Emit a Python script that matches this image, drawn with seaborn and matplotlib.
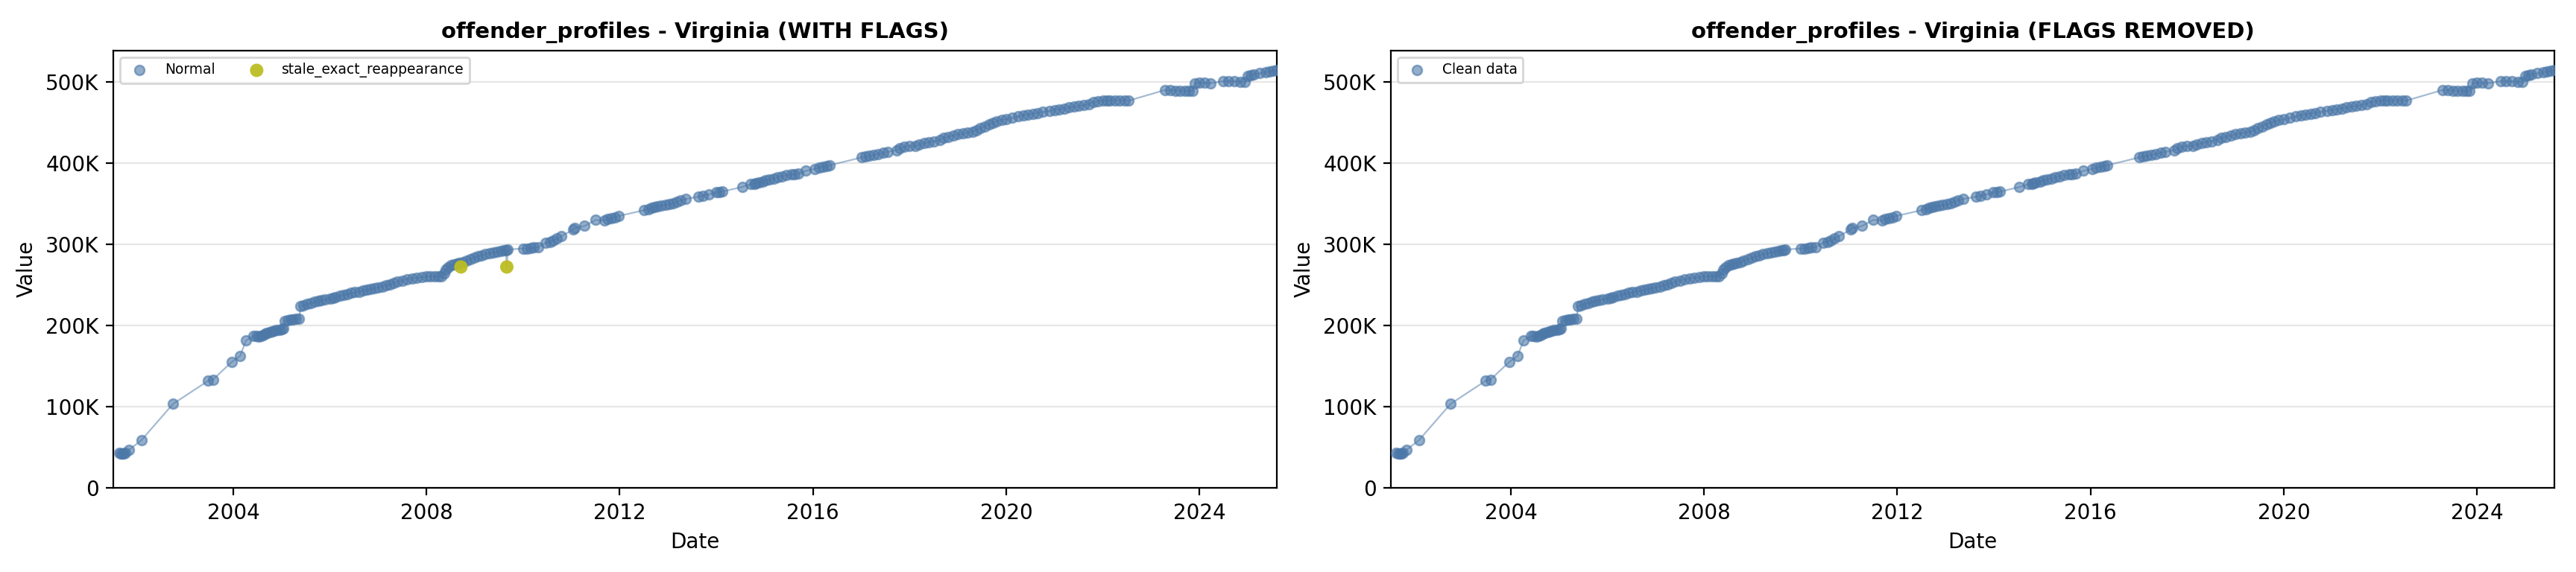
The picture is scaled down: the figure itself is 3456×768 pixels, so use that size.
import numpy as np
import pandas as pd
import matplotlib
matplotlib.use("Agg")
import matplotlib.pyplot as plt
import matplotlib.dates as mdates
from matplotlib.ticker import FuncFormatter
import seaborn as sns

# ---------------- data (dates as decimal years, values in thousands) ----------------
date_years = [
    2001.63, 2001.67, 2001.70, 2001.73, 2001.76, 2001.84, 2002.10, 2002.75, 2003.48, 2003.58,
    2003.97, 2004.14, 2004.26,
    2004.42, 2004.47, 2004.52, 2004.57, 2004.62, 2004.66, 2004.70, 2004.75, 2004.80, 2004.85,
    2004.90, 2004.95, 2005.00, 2005.03, 2005.06, 2005.12, 2005.18, 2005.24, 2005.30, 2005.36,
    2005.39, 2005.45, 2005.52, 2005.60, 2005.68, 2005.75, 2005.82, 2005.90, 2006.00, 2006.06,
    2006.12, 2006.20, 2006.28, 2006.36, 2006.44, 2006.52, 2006.60, 2006.68, 2006.76, 2006.84,
    2006.92, 2007.00, 2007.08, 2007.16, 2007.24, 2007.32, 2007.40, 2007.50, 2007.60, 2007.70,
    2007.80, 2007.90, 2008.00, 2008.08, 2008.16, 2008.24, 2008.31,
    2008.36, 2008.40, 2008.45, 2008.50, 2008.56, 2008.62, 2008.67, 2008.75, 2008.82, 2008.90,
    2008.98, 2009.06, 2009.14, 2009.22, 2009.30, 2009.38, 2009.46, 2009.54, 2009.60, 2009.64,
    2009.68,
    2010.00, 2010.08, 2010.15, 2010.22, 2010.31, 2010.46, 2010.55, 2010.62, 2010.70, 2010.79,
    2011.03, 2011.06, 2011.27, 2011.50, 2011.68, 2011.75, 2011.82, 2011.90, 2011.98, 2012.50,
    2012.60, 2012.66, 2012.72, 2012.78, 2012.86, 2012.94, 2013.03, 2013.10, 2013.18, 2013.26,
    2013.37, 2013.63, 2013.72, 2013.84, 2013.99, 2014.06, 2014.12, 2014.53, 2014.71, 2014.78,
    2014.82, 2014.87, 2014.95, 2015.02, 2015.10, 2015.18, 2015.27, 2015.36, 2015.45, 2015.55,
    2015.62, 2015.69, 2015.85,
    2016.03, 2016.12, 2016.20, 2016.28, 2016.35, 2017.00, 2017.08, 2017.16, 2017.25, 2017.35,
    2017.45, 2017.54, 2017.73, 2017.80, 2017.88, 2017.99, 2018.12, 2018.20, 2018.30, 2018.40,
    2018.50, 2018.62, 2018.70, 2018.80, 2018.90, 2019.00, 2019.10, 2019.20, 2019.30, 2019.38,
    2019.46, 2019.55, 2019.64, 2019.72, 2019.80, 2019.90, 2020.00, 2020.13, 2020.25, 2020.35,
    2020.45, 2020.55, 2020.65, 2020.75, 2020.89, 2021.00, 2021.10, 2021.20, 2021.30, 2021.40,
    2021.50, 2021.60, 2021.71, 2021.80, 2021.90, 2022.00, 2022.08, 2022.15, 2022.25, 2022.35,
    2022.45, 2022.53,
    2023.28, 2023.40, 2023.50, 2023.60, 2023.70, 2023.78, 2023.85, 2023.91, 2024.00, 2024.10,
    2024.23, 2024.49, 2024.60, 2024.72, 2024.84, 2024.94, 2025.00, 2025.06, 2025.12, 2025.25,
    2025.37, 2025.45, 2025.52, 2025.60,
]
values_k = [
    43.0, 42.5, 42.0, 42.5, 43.0, 46.8, 59.0, 103.4, 132.0, 133.5,
    155.3, 162.4, 181.4,
    187.0, 187.5, 186.5, 187.0, 188.5, 190.0, 191.0, 192.0, 193.0, 194.0,
    194.5, 195.0, 195.5, 196.0, 205.5, 206.5, 207.0, 207.5, 208.0, 208.5,
    223.5, 225.0, 226.5, 227.8, 229.0, 230.0, 231.0, 232.0, 233.0, 234.0,
    235.0, 236.5, 238.0, 239.0, 240.0, 241.0, 241.8, 243.0, 244.0, 245.0,
    246.0, 247.0, 248.0, 249.5, 251.0, 252.5, 254.0, 255.5, 257.0, 258.0,
    259.0, 259.5, 260.5, 261.0, 260.5, 260.5, 261.0,
    264.0, 269.0, 272.0, 274.0, 275.0, 276.0, 277.0, 278.5, 280.0, 282.0,
    283.5, 285.0, 286.5, 288.0, 289.0, 290.0, 291.0, 292.0, 292.5, 293.0,
    293.5,
    295.0, 295.0, 295.5, 296.0, 296.5, 302.0, 303.0, 305.0, 307.0, 310.0,
    318.0, 320.0, 322.6, 330.0, 329.5, 331.0, 332.5, 333.5, 335.0, 342.0,
    343.5, 345.0, 346.0, 347.0, 348.0, 348.6, 349.5, 351.0, 352.5, 354.0,
    356.0, 358.7, 360.0, 361.5, 364.0, 364.5, 365.0, 370.6, 374.0, 374.5,
    375.0, 376.0, 377.5, 379.0, 380.0, 381.0, 382.5, 384.0, 385.0, 386.0,
    386.5, 387.0, 390.5,
    393.0, 394.5, 395.5, 396.5, 397.5, 407.0, 408.0, 409.0, 410.0, 411.5,
    412.5, 414.0, 416.0, 418.0, 420.0, 421.5, 421.0, 423.0, 424.5, 426.0,
    427.0, 428.5, 431.0, 432.5, 434.0, 435.5, 436.5, 437.5, 439.0, 440.5,
    443.0, 445.5, 448.0, 450.0, 451.5, 453.0, 454.0, 455.7, 457.5, 459.0,
    460.0, 461.0, 462.0, 463.0, 464.5, 465.5, 466.5, 467.5, 468.5, 469.5,
    470.5, 471.5, 473.0, 475.0, 476.0, 477.0, 477.5, 477.6, 477.5, 477.5,
    477.5, 477.0,
    490.0, 490.0, 489.5, 489.5, 489.0, 489.0, 489.0, 498.5, 499.0, 499.0,
    498.5, 501.0, 501.0, 501.0, 500.5, 500.0, 507.5, 508.5, 509.5, 510.7,
    512.0, 513.0, 514.0, 515.0,
]
flag_years = [2008.71, 2009.66]
flag_values_k = [272.2, 272.2]
flag_label = "stale_exact_reappearance"

titles = ["offender_profiles - Virginia (WITH FLAGS)",
          "offender_profiles - Virginia (FLAGS REMOVED)"]


def to_dates(yrs):
    out = []
    for y in yrs:
        yi = int(np.floor(y))
        start = pd.Timestamp(year=yi, month=1, day=1)
        end = pd.Timestamp(year=yi + 1, month=1, day=1)
        out.append(start + (end - start) * (y - yi))
    return pd.to_datetime(out)


normal = pd.DataFrame({"date": to_dates(date_years),
                       "value": np.array(values_k) * 1000, "flag": "Normal"})
flags = pd.DataFrame({"date": to_dates(flag_years),
                      "value": np.array(flag_values_k) * 1000, "flag": flag_label})
full = pd.concat([normal, flags]).sort_values("date").reset_index(drop=True)

BLUE = "#4c78a8"
OLIVE = "#bcbd22"

sns.set_style("white")
plt.rcParams["font.family"] = ["DejaVu Sans"]
plt.rcParams.update({"text.color": "black", "axes.labelcolor": "black",
                     "xtick.color": "black", "ytick.color": "black"})

fig, axes = plt.subplots(1, 2, figsize=(17.28, 3.84), dpi=200)
fig.subplots_adjust(left=0.044, right=0.9916, top=0.912, bottom=0.147, wspace=0.098)

xlim = (to_dates([2001.515])[0], to_dates([2025.60])[0])


def fmt_k(v, pos):
    return "0" if v == 0 else f"{int(round(v / 1000))}K"


for i, ax in enumerate(axes):
    line_df = full if i == 0 else normal
    sns.lineplot(data=line_df, x="date", y="value", ax=ax, color=BLUE, alpha=0.5,
                 linewidth=0.8, estimator=None, sort=True, legend=False)
    sns.scatterplot(data=normal, x="date", y="value", ax=ax, color=BLUE, alpha=0.6,
                    s=22, edgecolor=BLUE, linewidth=0.9,
                    label="Normal" if i == 0 else "Clean data", zorder=3)
    if i == 0:
        sns.scatterplot(data=flags, x="date", y="value", ax=ax, color=OLIVE, alpha=0.95,
                        s=42, edgecolor="none", label=flag_label, zorder=4)
    ax.set_xlim(*xlim)
    ax.set_ylim(0, 539000)
    ax.xaxis.set_major_locator(mdates.YearLocator(4))
    ax.xaxis.set_major_formatter(mdates.DateFormatter("%Y"))
    ax.yaxis.set_major_formatter(FuncFormatter(fmt_k))
    ax.grid(axis="y", color="#e6e6e6", linewidth=0.8)
    ax.set_axisbelow(True)
    for sp in ax.spines.values():
        sp.set_color("black")
        sp.set_linewidth(0.8)
    ax.tick_params(axis="both", which="major", labelsize=10, length=3.5, width=0.8,
                   color="black", labelcolor="black", bottom=True, left=True)
    ax.set_xlabel("Date", fontsize=10, color="black")
    ax.set_ylabel("Value", fontsize=10, color="black")
    ax.set_title(titles[i], fontsize=10.5, fontweight="bold", color="black")
    leg = ax.legend(loc="upper left", ncol=2 if i == 0 else 1, fontsize=6.7, frameon=True)
    for t in leg.get_texts():
        t.set_color("black")

fig.savefig("out.png", dpi=200)
